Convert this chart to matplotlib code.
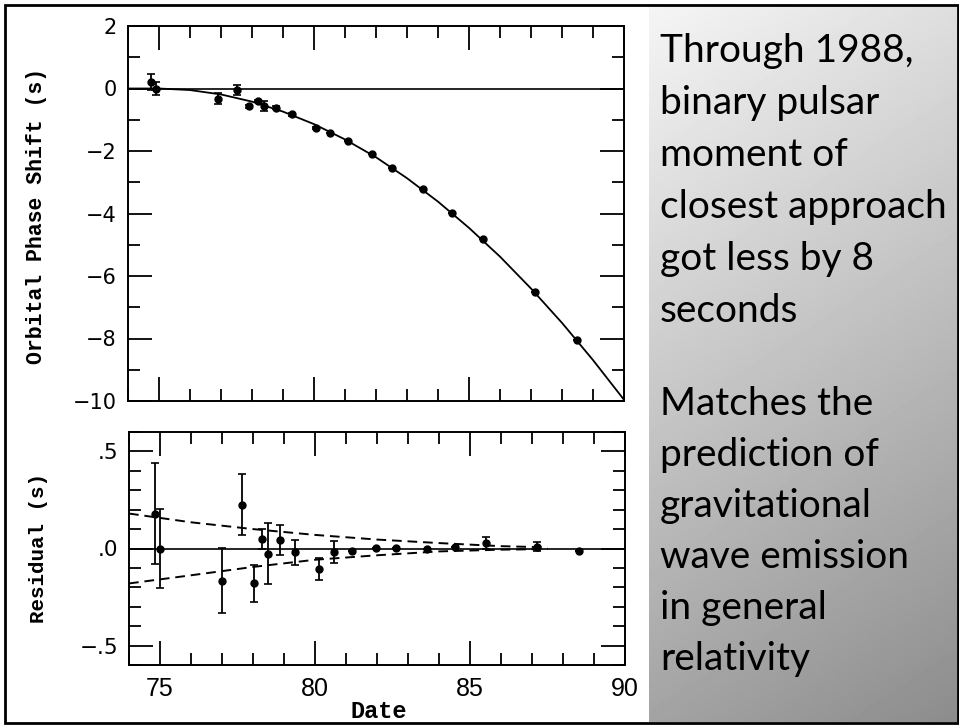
import numpy as np
import matplotlib.pyplot as plt
from matplotlib.patches import Rectangle
from matplotlib.ticker import MultipleLocator

# 轨道相位移动数据点 (年份, 相位移动 s, 误差)
phase_year = [74.74, 74.90, 76.90, 77.50, 77.90, 78.20, 78.40, 78.76, 79.28, 80.07,
              80.53, 81.10, 81.88, 82.53, 83.50, 84.46, 85.45, 87.13, 88.48]
phase_shift = [0.21, 0.00, -0.32, -0.05, -0.57, -0.40, -0.56, -0.61, -0.83, -1.26,
               -1.41, -1.69, -2.11, -2.53, -3.22, -3.98, -4.80, -6.51, -8.06]
phase_err = [0.26, 0.21, 0.18, 0.15, 0.05, 0.04, 0.16, 0.04, 0.04, 0.04,
             0.0, 0.0, 0.0, 0.0, 0.0, 0.0, 0.0, 0.0, 0.0]

# 广义相对论预测曲线
curve_year = [74, 75, 76, 77, 78, 79, 80, 81, 82, 83, 84, 85, 86, 87, 88, 89, 90]
curve_shift = [0.0, 0.0, -0.05, -0.19, -0.42, -0.74, -1.14, -1.63, -2.20, -2.87,
               -3.62, -4.46, -5.38, -6.40, -7.50, -8.69, -9.96]

# 残差数据点
resid_year = [74.83, 75.00, 77.00, 77.64, 78.02, 78.28, 78.48, 78.87, 79.35, 80.13,
              80.62, 81.19, 81.96, 82.60, 83.60, 84.52, 85.50, 87.17, 88.50]
resid_val = [0.18, 0.00, -0.165, 0.225, -0.179, 0.05, -0.027, 0.046, -0.019, -0.105,
             -0.019, -0.015, 0.004, 0.002, -0.003, 0.008, 0.028, 0.010, -0.015]
resid_err = [0.26, 0.205, 0.167, 0.157, 0.095, 0.05, 0.157, 0.077, 0.065, 0.057,
             0.056, 0.0, 0.0, 0.0, 0.0, 0.0, 0.03, 0.025, 0.0]

# 虚线包络
env_year = [74, 76, 78, 80, 82, 84, 86, 87.5]
env_upper = [0.18, 0.135, 0.10, 0.07, 0.046, 0.028, 0.012, 0.006]
env_lower = [-0.18, -0.138, -0.095, -0.058, -0.035, -0.015, -0.006, -0.003]

top_yticks = [-10, -8, -6, -4, -2, 0, 2]
top_yticklabels = ['\u221210', '\u22128', '\u22126', '\u22124', '\u22122', '0', '2']
bot_yticks = [-0.5, 0.0, 0.5]
bot_yticklabels = ['\u2212.5', '.0', '.5']
xticks = [75, 80, 85, 90]
xticklabels = ['75', '80', '85', '90']

text_lines1 = ['Through 1988,', 'binary pulsar', 'moment of', 'closest approach',
               'got less by 8', 'seconds']
text_lines2 = ['Matches the', 'prediction of', 'gravitational', 'wave emission',
               'in general', 'relativity']

plt.rcParams['font.family'] = ['Liberation Sans', 'DejaVu Sans']

W, H = 959, 725
fig = plt.figure(figsize=(W / 100, H / 100), dpi=100)
fig.patch.set_facecolor('white')

# 右侧渐变灰色面板
gx0, gx1, gy0, gy1 = 649, 958, 5, 722
gax = fig.add_axes([gx0 / W, 1 - gy1 / H, (gx1 - gx0) / W, (gy1 - gy0) / H])
yy, xx = np.mgrid[0:1:200j, 0:1:100j]
grad = 0.96 - 0.32 * yy - 0.09 * xx
gax.imshow(grad, cmap='gray', vmin=0, vmax=1, aspect='auto', extent=[0, 1, 1, 0])
gax.set_axis_off()

for i, s in enumerate(text_lines1):
    fig.text(660 / W, 1 - (62 + 52 * i) / H, s, fontsize=28, family='Lato',
             va='baseline', ha='left', color='black')
for i, s in enumerate(text_lines2):
    fig.text(660 / W, 1 - (415 + 51 * i) / H, s, fontsize=28, family='Lato',
             va='baseline', ha='left', color='black')


def style_axes(ax):
    for sp in ax.spines.values():
        sp.set_linewidth(1.4)
    ax.xaxis.set_minor_locator(MultipleLocator(1))
    ax.tick_params(which='both', direction='in', top=True, right=True, width=1.3)
    ax.tick_params(which='major', length=17)
    ax.tick_params(which='minor', length=8.5)


# 上图
ax1 = fig.add_axes([128 / W, 1 - 401 / H, 496 / W, 375 / H])
style_axes(ax1)
ax1.axhline(0, color='black', lw=1.2)
ax1.plot(curve_year, curve_shift, color='black', lw=1.3)
ax1.errorbar(phase_year, phase_shift, yerr=phase_err, fmt='o', color='black',
             ms=5, elinewidth=1.3, capsize=2.8, capthick=1.2)
ax1.set_xlim(74, 90)
ax1.set_ylim(-10, 2)
ax1.set_xticks(xticks, [''] * len(xticks))
ax1.set_yticks(top_yticks, top_yticklabels, fontsize=15, family='DejaVu Sans')
ax1.yaxis.set_minor_locator(MultipleLocator(1))
ax1.tick_params(axis='y', pad=8)

# 下图
ax2 = fig.add_axes([129 / W, 1 - 665 / H, 496 / W, 233 / H])
style_axes(ax2)
ax2.axhline(0, color='black', lw=1.2)
ax2.plot(env_year, env_upper, color='black', lw=1.4, ls=(0, (5, 3)))
ax2.plot(env_year, env_lower, color='black', lw=1.4, ls=(0, (5, 3)))
ax2.errorbar(resid_year, resid_val, yerr=resid_err, fmt='o', color='black',
             ms=5, elinewidth=1.3, capsize=2.8, capthick=1.2)
ax2.set_xlim(74, 90)
ax2.set_ylim(-0.6, 0.6)
ax2.set_xticks(xticks, xticklabels, fontsize=18, family='Liberation Sans')
ax2.set_yticks(bot_yticks, bot_yticklabels, fontsize=15.5, family='DejaVu Sans')
ax2.yaxis.set_minor_locator(MultipleLocator(0.1))
ax2.tick_params(axis='y', pad=8)
ax2.tick_params(axis='x', pad=9)

# 轴标签
label_font = dict(family='Liberation Mono', fontweight='bold')
fig.text(37 / W, 1 - 216 / H, 'Orbital Phase Shift (s)', rotation=90, fontsize=15.5,
         ha='center', va='center', **label_font)
fig.text(39 / W, 1 - 548 / H, 'Residual (s)', rotation=90, fontsize=15,
         ha='center', va='center', **label_font)
fig.text(379 / W, 1 - 718 / H, 'Date', fontsize=17, ha='center', va='baseline',
         **label_font)

# 外框
fig.patches.append(Rectangle((5 / W, 1 - 723 / H), 953 / W, 718 / H,
                             transform=fig.transFigure, fill=False, lw=2,
                             ec='black', zorder=10))

fig.savefig('out.png', dpi=100)
